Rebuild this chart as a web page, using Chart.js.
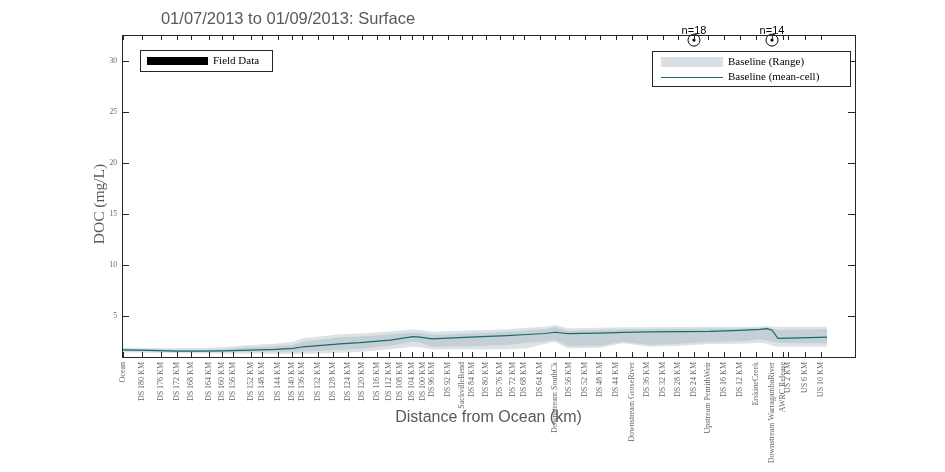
<!DOCTYPE html>
<html>
<head>
<meta charset="utf-8">
<script src="https://cdn.jsdelivr.net/npm/chart.js@4.4.0/dist/chart.umd.min.js"></script>
<style>
  html, body { margin: 0; padding: 0; background: #fff; }
  #wrap { width: 945px; height: 472px; position: relative; }
</style>
</head>
<body>
<div id="wrap"><canvas id="docchart"></canvas></div>
<script>
// tick positions along the river (chart units) and their labels
var tickPos = [1, 20, 39, 55, 69, 87, 100, 111, 129, 140, 156, 170, 180, 196, 211, 226,
  240, 255, 267, 278, 290, 301, 310, 326, 340, 350, 364, 378, 391, 402, 418, 433,
  447, 463, 478, 494, 510, 525, 541, 556, 572, 586, 602, 618, 634, 650, 661, 666, 683, 699];
var tickLabels = ['Ocean', 'DS 180 KM', 'DS 176 KM', 'DS 172 KM', 'DS 168 KM', 'DS 164 KM',
  'DS 160 KM', 'DS 156 KM', 'DS 152 KM', 'DS 148 KM', 'DS 144 KM', 'DS 140 KM', 'DS 136 KM',
  'DS 132 KM', 'DS 128 KM', 'DS 124 KM', 'DS 120 KM', 'DS 116 KM', 'DS 112 KM', 'DS 108 KM',
  'DS 104 KM', 'DS 100 KM', 'DS 96 KM', 'DS 92 KM', 'SackvilleBend', 'DS 84 KM', 'DS 80 KM',
  'DS 76 KM', 'DS 72 KM', 'DS 68 KM', 'DS 64 KM', 'Downstream SouthCk', 'DS 56 KM', 'DS 52 KM',
  'DS 48 KM', 'DS 44 KM', 'Downstream GroseRiver', 'DS 36 KM', 'DS 32 KM', 'DS 28 KM',
  'DS 24 KM', 'Upstream PenrithWeir', 'DS 16 KM', 'DS 12 KM', 'ErskineCreek',
  'Downstream WarragambaRiver', 'AWRC Release', 'US 2 KM', 'US 6 KM', 'US 10 KM'];
var yTicks = [5, 10, 15, 20, 25, 30];

// baseline model output along the river
var cellX = [1, 28, 55, 78, 101, 128, 153, 171, 181, 218, 238, 268, 291, 298, 310, 348,
  385, 405, 423, 433, 446, 478, 501, 528, 558, 588, 618, 638, 645, 650, 656, 678, 705];
var meanDOC = [1.69, 1.64, 1.57, 1.58, 1.6, 1.68, 1.75, 1.85, 2.0, 2.28, 2.4, 2.65, 3.0, 2.95,
  2.78, 2.95, 3.1, 3.2, 3.3, 3.42, 3.28, 3.33, 3.4, 3.45, 3.48, 3.5, 3.6, 3.7, 3.78, 3.62,
  2.83, 2.88, 2.95];
var innerHi = [1.78, 1.75, 1.7, 1.72, 1.78, 1.95, 2.05, 2.18, 2.5, 2.93, 3.0, 3.2, 3.38, 3.35,
  3.16, 3.3, 3.48, 3.6, 3.75, 3.9, 3.58, 3.65, 3.71, 3.72, 3.75, 3.78, 3.8, 3.87, 3.9, 3.8,
  3.65, 3.7, 3.75];
var innerLo = [1.58, 1.54, 1.5, 1.5, 1.5, 1.52, 1.52, 1.52, 1.55, 1.69, 1.8, 2.1, 2.5, 2.4,
  2.0, 2.05, 2.18, 2.4, 2.55, 2.67, 2.08, 2.1, 2.5, 2.18, 2.3, 2.5, 2.55, 2.7, 2.65, 2.5,
  2.4, 2.35, 2.34];
var outerHi = [1.91, 1.88, 1.85, 1.87, 1.95, 2.18, 2.3, 2.5, 2.83, 3.22, 3.3, 3.5, 3.71, 3.65,
  3.48, 3.6, 3.71, 3.85, 3.95, 4.14, 3.81, 3.85, 3.9, 3.92, 3.93, 3.95, 3.95, 3.97, 4.0, 3.97,
  3.97, 3.97, 3.97];
var outerLo = [1.46, 1.42, 1.38, 1.36, 1.35, 1.34, 1.32, 1.29, 1.3, 1.42, 1.5, 1.75, 2.0, 1.95,
  1.75, 1.75, 1.75, 1.85, 2.3, 2.5, 1.85, 1.9, 2.34, 2.0, 2.1, 2.27, 2.3, 2.4, 2.3, 2.1,
  2.0, 2.0, 2.0];

// field samples (site position, marker level, sample count)
var fieldX = [572, 650];
var fieldDOC = [32, 32];
var fieldN = [18, 14];

function pts(ys) {
  return cellX.map(function (x, i) { return { x: x, y: ys[i] }; });
}
var fieldPts = fieldX.map(function (x, i) { return { x: x, y: fieldDOC[i] }; });

var greyTxt = '#595959';

var framePlugin = {
  id: 'frame',
  afterDraw: function (chart) {
    var ctx = chart.ctx, a = chart.chartArea;
    var xs = chart.scales.x, ys = chart.scales.y;
    ctx.save();
    ctx.strokeStyle = '#262626';
    ctx.lineWidth = 1;
    ctx.strokeRect(Math.round(a.left) + 0.5, Math.round(a.top) + 0.5,
      Math.round(a.right - a.left), Math.round(a.bottom - a.top));
    ctx.beginPath();
    xs.ticks.forEach(function (t) {
      var px = Math.round(xs.getPixelForValue(t.value)) + 0.5;
      ctx.moveTo(px, a.bottom); ctx.lineTo(px, a.bottom - 5);
      ctx.moveTo(px, a.top); ctx.lineTo(px, a.top + 5);
    });
    ys.ticks.forEach(function (t) {
      var py = Math.round(ys.getPixelForValue(t.value)) + 0.5;
      ctx.moveTo(a.left, py); ctx.lineTo(a.left + 7, py);
      ctx.moveTo(a.right, py); ctx.lineTo(a.right - 7, py);
    });
    ctx.stroke();

    // titles
    ctx.fillStyle = greyTxt;
    ctx.textAlign = 'center';
    ctx.textBaseline = 'middle';
    ctx.font = '16.5px "Liberation Sans", Arial, sans-serif';
    ctx.fillText('01/07/2013 to 01/09/2013: Surface', 288, 19);
    ctx.font = '16px "Liberation Sans", Arial, sans-serif';
    ctx.fillText('Distance from Ocean (km)', (a.left + a.right) / 2, 418);
    ctx.save();
    ctx.translate(100, 204);
    ctx.rotate(-Math.PI / 2);
    ctx.font = '15.5px "Liberation Serif", "Times New Roman", serif';
    ctx.fillText('DOC (mg/L)', 0, 0);
    ctx.restore();

    // field data legend
    ctx.fillStyle = '#fff';
    ctx.fillRect(140.5, 50.5, 132, 21);
    ctx.strokeRect(140.5, 50.5, 132, 21);
    ctx.fillStyle = '#000';
    ctx.fillRect(147, 57, 61, 8);
    ctx.textAlign = 'left';
    ctx.font = '11px "Liberation Serif", "Times New Roman", serif';
    ctx.fillText(chart.data.datasets[5].label, 213, 61.5);

    // baseline legend
    ctx.fillStyle = '#fff';
    ctx.fillRect(652.5, 51.5, 198, 35);
    ctx.strokeRect(652.5, 51.5, 198, 35);
    ctx.fillStyle = '#d9dfe2';
    ctx.fillRect(661, 57, 62, 10);
    ctx.strokeStyle = '#176b6e';
    ctx.beginPath();
    ctx.moveTo(661, 77.5); ctx.lineTo(723, 77.5);
    ctx.stroke();
    ctx.fillStyle = '#000';
    ctx.fillText(chart.data.datasets[4].label, 728, 62);
    ctx.fillText(chart.data.datasets[0].label, 728, 77.5);

    // sample counts above field markers
    var meta = chart.getDatasetMeta(5);
    ctx.textAlign = 'center';
    ctx.font = '11px "Liberation Sans", Arial, sans-serif';
    meta.data.forEach(function (p, i) {
      ctx.fillText('n=' + fieldN[i], p.x, p.y - 9);
    });
    ctx.restore();
  }
};

var ctx = document.getElementById('docchart');
var myChart = new Chart(ctx, {
  type: 'line',
  data: {
    datasets: [
      { label: 'Baseline (mean-cell)', data: pts(meanDOC), borderColor: '#176b6e',
        borderWidth: 1.2, pointRadius: 0, fill: false, tension: 0 },
      { label: 'inner low', data: pts(innerLo), borderWidth: 0, borderColor: 'rgba(0,0,0,0)',
        pointRadius: 0, fill: false },
      { label: 'inner high', data: pts(innerHi), borderWidth: 0, borderColor: 'rgba(0,0,0,0)',
        pointRadius: 0, fill: '-1', backgroundColor: '#c4d0d5' },
      { label: 'outer low', data: pts(outerLo), borderWidth: 0, borderColor: 'rgba(0,0,0,0)',
        pointRadius: 0, fill: false },
      { label: 'Baseline (Range)', data: pts(outerHi), borderWidth: 0, borderColor: 'rgba(0,0,0,0)',
        pointRadius: 0, fill: '-1', backgroundColor: '#dce2e5' },
      { label: 'Field Data', type: 'scatter', data: fieldPts, showLine: false, clip: false,
        pointStyle: 'circle', pointRadius: 6, borderColor: '#000', borderWidth: 1,
        backgroundColor: 'rgba(0,0,0,0)' },
      { label: 'field dot', type: 'scatter', data: fieldPts, showLine: false, clip: false,
        pointRadius: 1.6, borderWidth: 0, backgroundColor: '#000' }
    ]
  },
  options: {
    responsive: true,
    maintainAspectRatio: false,
    animation: false,
    layout: { padding: { left: 0, right: 90, top: 35, bottom: 0 } },
    plugins: {
      legend: { display: false },
      title: { display: false },
      tooltip: { enabled: false }
    },
    scales: {
      x: {
        type: 'linear', min: 0, max: 733,
        grid: { display: false, drawTicks: false },
        border: { display: false },
        afterBuildTicks: function (axis) {
          axis.ticks = tickPos.map(function (v) { return { value: v }; });
        },
        afterFit: function (axis) { axis.height = 115; },
        ticks: {
          autoSkip: false, minRotation: 90, maxRotation: 90, padding: 5,
          color: '#666', font: { family: '"Liberation Serif", serif', size: 8 },
          callback: function (v, i) { return tickLabels[i]; }
        }
      },
      y: {
        min: 1, max: 32.5,
        grid: { display: false, drawTicks: false },
        border: { display: false },
        afterBuildTicks: function (axis) {
          axis.ticks = yTicks.map(function (v) { return { value: v }; });
        },
        afterFit: function (axis) { axis.width = 122; },
        ticks: {
          padding: 5, color: '#666',
          font: { family: '"Liberation Serif", serif', size: 7.5 }
        }
      }
    }
  },
  plugins: [framePlugin]
});
</script>
</body>
</html>
